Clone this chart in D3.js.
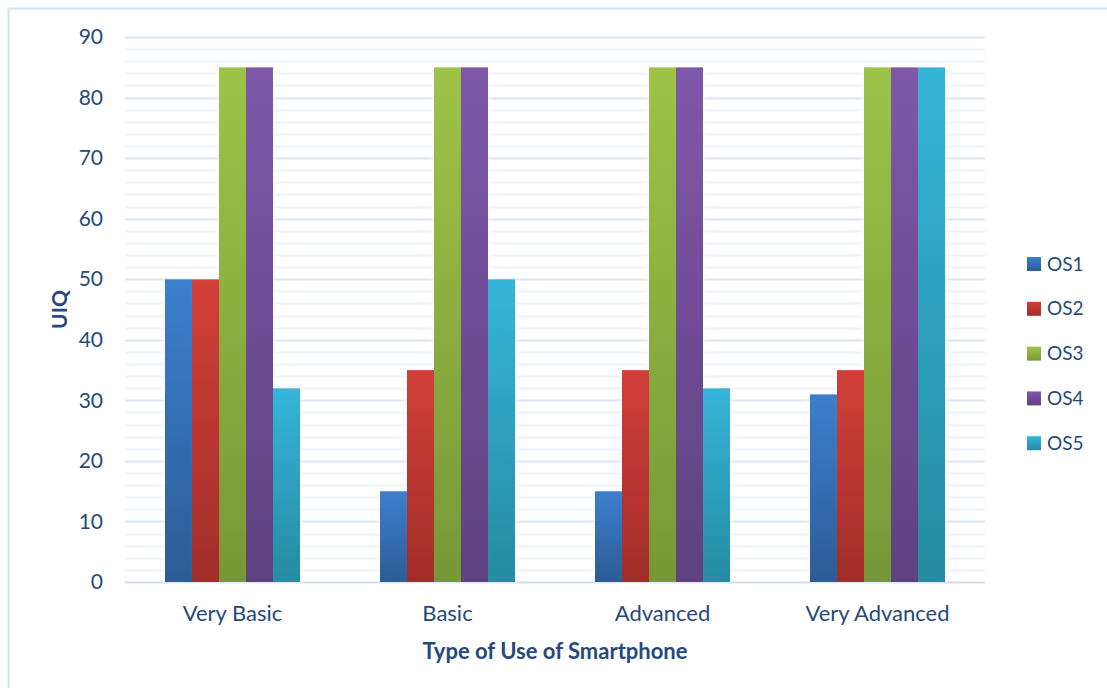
<!DOCTYPE html>
<html>
<head>
<meta charset="utf-8">
<script src="https://cdn.jsdelivr.net/npm/d3@7"></script>
<style>
  body { margin: 0; background: #fff; }
  svg { display: block; font-family: Lato, "Open Sans", sans-serif; }
</style>
</head>
<body>
<div id="chart"></div>
<script>
// data
const categories = ["Very Basic", "Basic", "Advanced", "Very Advanced"];
const seriesNames = ["OS1", "OS2", "OS3", "OS4", "OS5"];
const os1 = [50, 15, 15, 31];
const os2 = [50, 35, 35, 35];
const os3 = [85, 85, 85, 85];
const os4 = [85, 85, 85, 85];
const os5 = [32, 50, 32, 85];
const yTicks = [0, 10, 20, 30, 40, 50, 60, 70, 80, 90];

const seriesValues = [os1, os2, os3, os4, os5];
const colors = [
    ["#3c7fcd", "#2c5c96"],
    ["#d23f38", "#a12d29"],
    ["#9dc447", "#779838"],
    ["#7f58a9", "#5e4181"],
    ["#35b5d9", "#268ba2"]
];
const textColor = "#27497a";

const width = 1107;
const height = 688;
const margin = { top: 37, right: 122, bottom: 106, left: 125 };

const svg = d3.select("#chart")
    .append("svg")
    .attr("width", width)
    .attr("height", height);

// frame
svg.append("rect")
    .attr("x", 8.5)
    .attr("y", 8.5)
    .attr("width", width + 10)
    .attr("height", height + 10)
    .attr("fill", "none")
    .attr("stroke", "#d6e2f2")
    .attr("stroke-width", 2);

const defs = svg.append("defs");
colors.forEach((c, i) => {
    const g = defs.append("linearGradient")
        .attr("id", "grad" + i)
        .attr("x1", 0).attr("y1", 0)
        .attr("x2", 0).attr("y2", 1);
    g.append("stop").attr("offset", "0%").attr("stop-color", c[0]);
    g.append("stop").attr("offset", "100%").attr("stop-color", c[1]);
});
const shadow = defs.append("filter")
    .attr("id", "glow")
    .attr("x", "-30%").attr("y", "-10%")
    .attr("width", "160%").attr("height", "120%");
shadow.append("feGaussianBlur")
    .attr("in", "SourceAlpha")
    .attr("stdDeviation", 3)
    .attr("result", "blur");
shadow.append("feFlood").attr("flood-color", "#ffffff").attr("result", "white");
shadow.append("feComposite").attr("in", "white").attr("in2", "blur").attr("operator", "in").attr("result", "halo");
const merge = shadow.append("feMerge");
merge.append("feMergeNode").attr("in", "halo");
merge.append("feMergeNode").attr("in", "SourceGraphic");

const x0 = d3.scaleBand()
    .domain(categories)
    .range([margin.left, width - margin.right])
    .paddingInner(0.372)
    .paddingOuter(0.186);

const x1 = d3.scaleBand()
    .domain(seriesNames)
    .range([0, x0.bandwidth()]);

const y = d3.scaleLinear()
    .domain([0, 90])
    .range([height - margin.bottom, margin.top]);

// minor gridlines
svg.append("g")
    .selectAll("line")
    .data(d3.range(0, 91, 2).filter(v => v % 10 !== 0))
    .join("line")
    .attr("x1", margin.left)
    .attr("x2", width - margin.right)
    .attr("y1", d => Math.round(y(d)) + 0.5)
    .attr("y2", d => Math.round(y(d)) + 0.5)
    .attr("stroke", "#edf2f9")
    .attr("stroke-width", 2);

// major gridlines
svg.append("g")
    .selectAll("line")
    .data(yTicks)
    .join("line")
    .attr("x1", margin.left)
    .attr("x2", width - margin.right)
    .attr("y1", d => Math.round(y(d)) + 0.5)
    .attr("y2", d => Math.round(y(d)) + 0.5)
    .attr("stroke", d => d === 0 ? "#cfdcee" : "#dbe5f3")
    .attr("stroke-width", 2);

// y axis labels
const yAxis = svg.append("g")
    .attr("transform", `translate(${margin.left - 22},0)`)
    .call(d3.axisLeft(y).tickValues(yTicks).tickSize(0).tickPadding(0));
yAxis.select(".domain").remove();
yAxis.selectAll("text")
    .attr("fill", textColor)
    .attr("font-size", 21)
    .attr("font-family", "Lato, sans-serif");

// bars
const groups = svg.append("g")
    .selectAll("g")
    .data(categories)
    .join("g")
    .attr("transform", d => `translate(${x0(d)},0)`)
    .attr("filter", "url(#glow)");

groups.selectAll("rect")
    .data((d, ci) => seriesNames.map((s, si) => ({ s, si, v: seriesValues[si][ci] })))
    .join("rect")
    .attr("x", d => x1(d.s))
    .attr("y", d => y(d.v))
    .attr("width", x1.bandwidth())
    .attr("height", d => y(0) - y(d.v))
    .attr("fill", d => `url(#grad${d.si})`);

// x axis labels
const xAxis = svg.append("g")
    .attr("transform", `translate(0,${y(0) + 23})`)
    .call(d3.axisBottom(x0).tickSize(0).tickPadding(0));
xAxis.select(".domain").remove();
xAxis.selectAll("text")
    .attr("fill", textColor)
    .attr("font-size", 22)
    .attr("font-family", "Lato, sans-serif");

// axis titles
svg.append("text")
    .attr("x", (margin.left + width - margin.right) / 2)
    .attr("y", 659)
    .attr("text-anchor", "middle")
    .attr("fill", textColor)
    .attr("font-size", 22)
    .attr("font-weight", "bold")
    .text("Type of Use of Smartphone");

svg.append("text")
    .attr("transform", `translate(67,${y(45)}) rotate(-90)`)
    .attr("text-anchor", "middle")
    .attr("fill", textColor)
    .attr("font-size", 21)
    .attr("font-weight", "bold")
    .text("UIQ");

// legend
const legend = svg.append("g")
    .selectAll("g")
    .data(seriesNames)
    .join("g")
    .attr("transform", (d, i) => `translate(1027,${264 + i * 44.8})`);

legend.append("rect")
    .attr("x", 0)
    .attr("y", -7)
    .attr("width", 14)
    .attr("height", 14)
    .attr("fill", (d, i) => `url(#grad${i})`);

legend.append("text")
    .attr("x", 20)
    .attr("y", 0)
    .attr("dy", "0.35em")
    .attr("fill", textColor)
    .attr("font-size", 19)
    .text(d => d);
</script>
</body>
</html>
